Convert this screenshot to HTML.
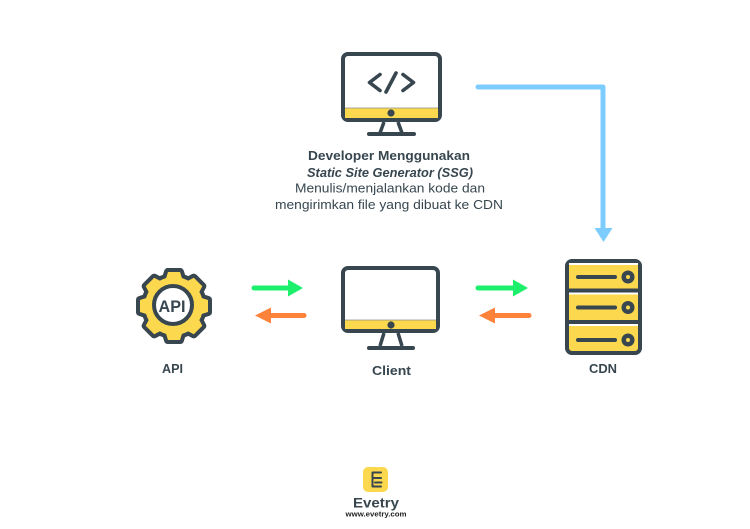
<!DOCTYPE html>
<html><head><meta charset="utf-8"><style>
html,body{margin:0;padding:0;background:#fff;}
svg{display:block;}
text{font-family:"Liberation Sans",Arial,sans-serif;fill:#37464f;}
</style></head><body>
<svg width="750" height="529" viewBox="0 0 750 529" xmlns="http://www.w3.org/2000/svg">
<rect width="750" height="529" fill="#fff"/>

<!-- Top monitor -->
<rect x="343" y="54" width="97" height="66" rx="5" fill="#fff" stroke="#37464f" stroke-width="4"/>
<rect x="345" y="108" width="93" height="10" fill="#fcd84e"/>
<line x1="345" y1="108" x2="438" y2="108" stroke="#8a8f86" stroke-width="0.8"/>
<circle cx="391" cy="113" r="3.6" fill="#37464f"/>
<path d="M384,122 L380,133 M398,122 L402,133" stroke="#37464f" stroke-width="3.5" fill="none"/>
<line x1="369" y1="134" x2="414" y2="134" stroke="#37464f" stroke-width="4" stroke-linecap="round"/>
<g stroke="#37464f" stroke-width="3.6" fill="none" stroke-linecap="round" stroke-linejoin="round">
<polyline points="380,74.5 369.5,82.5 380,90.5"/>
<line x1="396" y1="73" x2="386" y2="92"/>
<polyline points="403,74.5 413.5,82.5 403,90.5"/>
</g>

<!-- Text block -->
<text x="389" y="160" font-size="13" font-weight="bold" text-anchor="middle" textLength="162" lengthAdjust="spacingAndGlyphs">Developer  Menggunakan</text>
<text x="390" y="177" font-size="13" font-weight="bold" font-style="italic" text-anchor="middle" textLength="166" lengthAdjust="spacingAndGlyphs">Static Site Generator (SSG)</text>
<text x="390" y="192.5" font-size="13" text-anchor="middle" textLength="190" lengthAdjust="spacingAndGlyphs">Menulis/menjalankan kode dan</text>
<text x="389" y="209" font-size="13" text-anchor="middle" textLength="228" lengthAdjust="spacingAndGlyphs">mengirimkan file yang dibuat ke CDN</text>

<!-- Blue arrow -->
<path d="M478,87 H603 V229" stroke="#7ccdfd" stroke-width="5" fill="none" stroke-linecap="round" stroke-linejoin="round"/>
<polygon points="594.5,228 612.5,228 603.5,242" fill="#7ccdfd"/>

<!-- Gear -->
<g transform="translate(174,306)">
<g fill="#37464f" stroke="#37464f" stroke-width="8" stroke-linejoin="round">
<circle r="29"/>
<g id="teeth">
<path d="M-8.5,-26 L-6,-34 L6,-34 L8.5,-26 Z"/>
<path transform="rotate(45)" d="M-8.5,-26 L-6,-34 L6,-34 L8.5,-26 Z"/>
<path transform="rotate(90)" d="M-8.5,-26 L-6,-34 L6,-34 L8.5,-26 Z"/>
<path transform="rotate(135)" d="M-8.5,-26 L-6,-34 L6,-34 L8.5,-26 Z"/>
<path transform="rotate(180)" d="M-8.5,-26 L-6,-34 L6,-34 L8.5,-26 Z"/>
<path transform="rotate(225)" d="M-8.5,-26 L-6,-34 L6,-34 L8.5,-26 Z"/>
<path transform="rotate(270)" d="M-8.5,-26 L-6,-34 L6,-34 L8.5,-26 Z"/>
<path transform="rotate(315)" d="M-8.5,-26 L-6,-34 L6,-34 L8.5,-26 Z"/>
</g>
</g>
<g fill="#fcd84e">
<circle r="29"/>
<path d="M-8.5,-26 L-6,-34 L6,-34 L8.5,-26 Z"/>
<path transform="rotate(45)" d="M-8.5,-26 L-6,-34 L6,-34 L8.5,-26 Z"/>
<path transform="rotate(90)" d="M-8.5,-26 L-6,-34 L6,-34 L8.5,-26 Z"/>
<path transform="rotate(135)" d="M-8.5,-26 L-6,-34 L6,-34 L8.5,-26 Z"/>
<path transform="rotate(180)" d="M-8.5,-26 L-6,-34 L6,-34 L8.5,-26 Z"/>
<path transform="rotate(225)" d="M-8.5,-26 L-6,-34 L6,-34 L8.5,-26 Z"/>
<path transform="rotate(270)" d="M-8.5,-26 L-6,-34 L6,-34 L8.5,-26 Z"/>
<path transform="rotate(315)" d="M-8.5,-26 L-6,-34 L6,-34 L8.5,-26 Z"/>
</g>
</g>
<circle cx="173" cy="305" r="19" fill="#fff" stroke="#37464f" stroke-width="4"/>
<text x="172" y="312" font-size="16.5" font-weight="bold" text-anchor="middle" textLength="27" lengthAdjust="spacingAndGlyphs">API</text>
<text x="172.5" y="373" font-size="12.5" font-weight="bold" text-anchor="middle" textLength="21" lengthAdjust="spacingAndGlyphs">API</text>

<!-- Arrows left pair -->
<line x1="254" y1="288" x2="290" y2="288" stroke="#1cef6b" stroke-width="5" stroke-linecap="round"/>
<polygon points="288,279.5 303,288 288,296.5" fill="#1cef6b"/>
<line x1="269" y1="315.5" x2="304" y2="315.5" stroke="#fe8239" stroke-width="5" stroke-linecap="round"/>
<polygon points="271,307.5 255,315.5 271,323.5" fill="#fe8239"/>

<!-- Client monitor -->
<rect x="343" y="268" width="95" height="63" rx="5" fill="#fff" stroke="#37464f" stroke-width="4"/>
<rect x="345" y="320" width="91" height="9" fill="#fcd84e"/>
<line x1="345" y1="320" x2="436" y2="320" stroke="#8a8f86" stroke-width="0.8"/>
<circle cx="391" cy="325" r="3.6" fill="#37464f"/>
<path d="M384,333 L380,346 M398,333 L402,346" stroke="#37464f" stroke-width="3.5" fill="none"/>
<line x1="369" y1="348" x2="413" y2="348" stroke="#37464f" stroke-width="4" stroke-linecap="round"/>
<text x="391.5" y="375" font-size="13" font-weight="bold" text-anchor="middle" textLength="39" lengthAdjust="spacingAndGlyphs">Client</text>

<!-- Arrows right pair -->
<line x1="478" y1="288" x2="515" y2="288" stroke="#1cef6b" stroke-width="5" stroke-linecap="round"/>
<polygon points="513,279.5 528,288 513,296.5" fill="#1cef6b"/>
<line x1="493" y1="315.5" x2="529" y2="315.5" stroke="#fe8239" stroke-width="5" stroke-linecap="round"/>
<polygon points="495,307.5 479,315.5 495,323.5" fill="#fe8239"/>

<!-- Server -->
<rect x="567" y="261" width="73" height="92" rx="5" fill="#fcd84e" stroke="#37464f" stroke-width="4"/>
<rect x="569" y="263" width="69" height="2" fill="#fff"/>
<rect x="569" y="288.5" width="69" height="4" fill="#37464f"/>
<rect x="569" y="292.5" width="69" height="2" fill="#fff"/>
<rect x="569" y="320" width="69" height="4" fill="#37464f"/>
<rect x="569" y="324" width="69" height="2" fill="#fff"/>
<g stroke="#37464f" stroke-width="4" stroke-linecap="round">
<line x1="578" y1="277" x2="615" y2="277"/>
<line x1="578" y1="307.5" x2="615" y2="307.5"/>
<line x1="578" y1="340" x2="615" y2="340"/>
</g>
<g fill="#37464f">
<circle cx="628" cy="277" r="6.5"/>
<circle cx="628" cy="307.5" r="6.5"/>
<circle cx="628" cy="340" r="6.5"/>
</g>
<g fill="#fcd84e">
<circle cx="628" cy="277" r="2"/>
<circle cx="628" cy="307.5" r="2"/>
<circle cx="628" cy="340" r="2"/>
</g>
<text x="603" y="373" font-size="13" font-weight="bold" text-anchor="middle" textLength="28" lengthAdjust="spacingAndGlyphs">CDN</text>

<!-- Logo -->
<rect x="363" y="467" width="25" height="25" rx="5" fill="#fcd84e"/>
<path d="M381,472.5 H372.5 V478 H381 M372.5,479 V486.5 H381 M375,482.5 H381.5" stroke="#37464f" stroke-width="2" fill="none" stroke-linecap="round" stroke-linejoin="round"/>
<text x="376" y="507.5" font-size="14" font-weight="bold" text-anchor="middle" textLength="46" lengthAdjust="spacingAndGlyphs">Evetry</text>
<text x="376" y="516.5" font-size="7" font-weight="bold" text-anchor="middle" textLength="61" lengthAdjust="spacingAndGlyphs" style="fill:#222">www.evetry.com</text>
</svg>
</body></html>
